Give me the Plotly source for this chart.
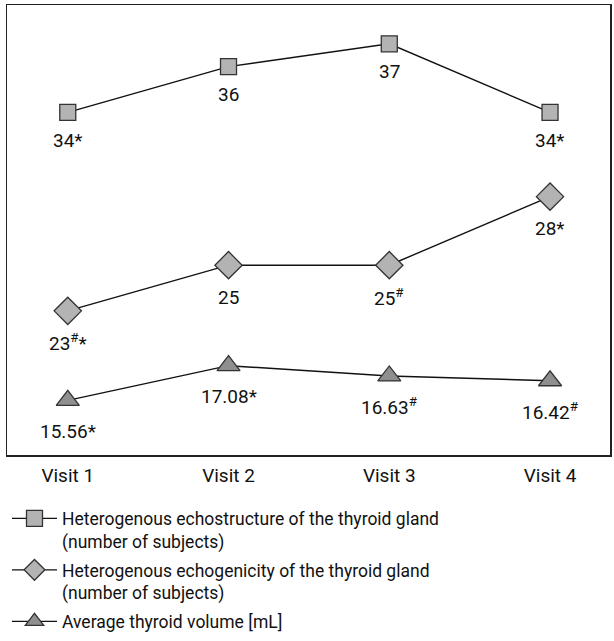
import plotly.graph_objects as go

# ---- data ----
visits = ["Visit 1", "Visit 2", "Visit 3", "Visit 4"]

echostructure = [34, 36, 37, 34]
echostructure_labels = ["34*", "36", "37", "34*"]

echogenicity = [23, 25, 25, 28]
echogenicity_labels = ["23<sup>#</sup>*", "25", "25<sup>#</sup>", "28*"]

volume = [15.56, 17.08, 16.63, 16.42]
volume_labels = ["15.56*", "17.08*", "16.63<sup>#</sup>", "16.42<sup>#</sup>"]

series_names = [
    "Heterogenous echostructure of the thyroid gland<br>(number of subjects)",
    "Heterogenous echogenicity of the thyroid gland<br>(number of subjects)",
    "Average thyroid volume [mL]",
]

FONT = "Roboto, Liberation Sans, sans-serif"
LINE = "#111111"
EDGE = "#333333"

# (values, labels, axis, symbol, size, fill, label offset below marker)
series = [
    (echostructure, echostructure_labels, "y", "square", 16, "#b3b3b3", -28),
    (echogenicity, echogenicity_labels, "y2", "diamond", 21, "#b3b3b3", -32),
    (volume, volume_labels, "y3", "triangle-up", 20, "#8f8f8f", -31),
]

fig = go.Figure()
annotations = []
for i, (vals, labels, yax, sym, size, fill, shift) in enumerate(series):
    fig.add_trace(go.Scatter(
        x=visits, y=vals, yaxis=yax, name=series_names[i],
        legendgroup=f"g{i}",
        mode="lines+markers",
        line=dict(color=LINE, width=1.4),
        marker=dict(symbol=sym, size=size, color=fill,
                    line=dict(color=EDGE, width=1.3)),
        hoverinfo="skip",
    ))
    for v, val, lab in zip(visits, vals, labels):
        annotations.append(dict(
            x=v, y=val, xref="x", yref=yax, text=lab, showarrow=False,
            yshift=shift, font=dict(family=FONT, size=19, color="#111111"),
        ))

hidden = dict(visible=False, fixedrange=True)
fig.update_layout(
    width=614, height=641,
    margin=dict(l=7, r=2, t=5, b=183),
    paper_bgcolor="white", plot_bgcolor="white",
    font=dict(family=FONT, color="#111111"),
    showlegend=True,
    legend=dict(
        x=0.0, xanchor="left", y=-0.101, yanchor="top",
        valign="top", font=dict(family=FONT, size=17.5, color="#111111"),
        tracegroupgap=3, itemwidth=45, bgcolor="rgba(0,0,0,0)",
    ),
    xaxis=dict(
        type="category", range=[-0.378, 3.373],
        showline=True, mirror=True, linecolor="#222222", linewidth=1.5,
        showgrid=False, zeroline=False, fixedrange=True,
        ticks="outside", ticklen=3, tickcolor="rgba(0,0,0,0)",
        tickfont=dict(family=FONT, size=19, color="#111111"),
    ),
    yaxis=dict(
        range=[19.0, 38.7], showline=True, mirror=True,
        linecolor="#222222", linewidth=1.5, fixedrange=True,
        showgrid=False, zeroline=False, showticklabels=False, ticks="",
    ),
    yaxis2=dict(range=[16.69, 36.39], overlaying="y", **hidden),
    yaxis3=dict(range=[13.17, 32.87], overlaying="y", **hidden),
    annotations=annotations,
)

fig.write_html(
    "out.html",
    config={"displayModeBar": False, "staticPlot": True},
    post_script=(
        "document.documentElement.style.margin='0';"
        "document.documentElement.style.overflow='hidden';"
        "document.body.style.margin='0';"
        "document.body.style.overflow='hidden';"
        "var gd=document.getElementById('{plot_id}');"
        "gd.style.position='fixed';gd.style.left='0px';gd.style.top='0px';"
    ),
)
